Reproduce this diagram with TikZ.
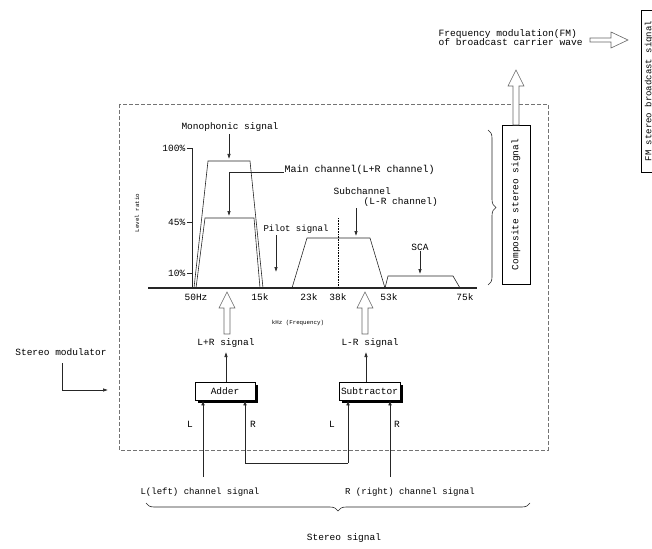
\documentclass[tikz,border=0pt]{standalone}
\usepackage{fontspec}
\setmainfont{Liberation Mono}
\usetikzlibrary{arrows.meta,shadows,decorations.pathreplacing}
\begin{document}
\begin{tikzpicture}[x=1pt,y=-1pt,
  font=\fontsize{9.5}{9}\selectfont,
  lbl/.style={inner sep=0.5pt},
  tiny/.style={inner sep=0.5pt,font=\fontsize{5.8}{6}\selectfont},
  ln/.style={line width=0.6pt, draw=black!85},
  arr/.style={ln,-{Latex[length=5pt,width=3.5pt]}},
  harrow/.style={draw=black!60, fill=white, line width=0.6pt},
  dashbox/.style={draw=black!55, dash pattern=on 4pt off 2pt, line width=0.7pt},
  opbox/.style={draw, fill=white, line width=0.6pt, minimum width=60pt, minimum height=18pt, inner sep=1pt,
    drop shadow={shadow xshift=2.5pt, shadow yshift=-2.5pt, fill=black, opacity=1}},
  brc/.style={ln, decorate, decoration={brace, amplitude=8pt}}]
\useasboundingbox (0,0) rectangle (652,548);

% outer dashed box
\draw[dashbox] (119,104) rectangle (548,450);

% top right: FM text and output box
\node[lbl, anchor=west, align=left, font=\fontsize{9.6}{9}\selectfont] (fmtxt) at (438,37.5)
  {Frequency modulation(FM)\\of broadcast carrier wave};
\draw[harrow] (590,38) -- (611,38) -- (611,32) -- (628,40) -- (611,48) -- (611,42) -- (590,42) -- cycle;
\node[draw, line width=0.6pt, minimum width=24pt, minimum height=162pt, inner sep=0pt] (fmbox) at (653,91) {};
\node[lbl, rotate=90, font=\fontsize{9}{9}\selectfont] (fmboxtxt) at (649,91) {FM stereo broadcast signal};

% composite stereo signal box
\node[draw, line width=0.6pt, minimum width=28pt, minimum height=159pt, inner sep=0pt] (comp) at (516,204.5) {};
\node[lbl, rotate=90] (comptxt) at (516,204.5) {Composite stereo signal};
\draw[harrow] (513,125) -- (513,86) -- (508,86) -- (516,70) -- (524,86) -- (519,86) -- (519,125) -- cycle;
\coordinate (bt) at (488,130);
\coordinate (bb) at (488,285);
\draw[brc] (bt) -- (bb);

% axes
\coordinate (ax0) at (148,288);
\coordinate (ax1) at (477,288);
\draw[line width=1.6pt, black!85] (ax0) -- (ax1);
\coordinate (yb) at (192,288);
\coordinate (yt) at (192,148);
\draw[ln] (yb) -- (yt);
\draw[ln] (187,148) -- (192,148);
\draw[ln] (187,222) -- (192,222);
\draw[ln] (187,273) -- (192,273);
\node[lbl, anchor=east] (t100) at (186,148) {100\%};
\node[lbl, anchor=east] (t45) at (186,222) {45\%};
\node[lbl, anchor=east] (t10) at (186,273) {10\%};
\node[tiny, rotate=90] (lvl) at (137,213) {Level ratio};

\node[lbl] (f1) at (196,297) {50Hz};
\node[lbl] (f2) at (260,297) {15k};
\node[lbl] (f3) at (309,297) {23k};
\node[lbl] (f4) at (338,297) {38k};
\node[lbl] (f5) at (389,297) {53k};
\node[lbl] (f6) at (465,297) {75k};
\node[tiny] (fq) at (298,323) {kHz (Frequency)};

% spectra
\draw[ln] (194,288) -- (208,161) -- (250,161) -- (263,288);
\draw[ln] (196,288) -- (205,218) -- (254,218) -- (260,288);
\draw[ln] (292,288) -- (307,238) -- (370,238) -- (385,288);
\draw[ln] (385,288) -- (388,276) -- (453,276) -- (460,288);
\draw[line width=0.6pt, densely dotted] (338,218) -- (338,288);

% spectrum labels
\node[lbl] (mono) at (230,127) {Monophonic signal};
\coordinate (monot) at (229,159);
\draw[arr] (229,134) -- (monot);
\node[lbl, anchor=west, font=\fontsize{10}{9}\selectfont] (mainl) at (284,170) {Main channel(L+R channel)};
\coordinate (maint) at (229,216);
\draw[arr] (mainl.west) ++(0,2) -| (maint);
\node[lbl, anchor=west] (subl) at (333,191.5) {Subchannel};
\node[lbl, anchor=west] (subl2) at (363,202) {(L-R channel)};
\coordinate (subt) at (356,236);
\draw[arr] (356,208) -- (subt);
\node[lbl, font=\fontsize{9}{9}\selectfont] (pilot) at (296,229) {Pilot signal};
\coordinate (pilt) at (276,272);
\draw[arr] (276,235) -- (pilt);
\node[lbl] (sca) at (420,247) {SCA};
\coordinate (scat) at (420,274);
\draw[arr] (sca.south) -- (scat);

% signals to spectrum
\node[lbl] (lps) at (226,343) {L+R signal};
\node[lbl] (lms) at (370,343) {L-R signal};
\draw[harrow] (224,334) -- (224,308) -- (219,308) -- (227,292) -- (235,308) -- (230,308) -- (230,334) -- cycle;
\draw[harrow] (362,334) -- (362,308) -- (357,308) -- (365,292) -- (373,308) -- (368,308) -- (368,334) -- cycle;

% adder and subtractor
\node[opbox] (adder) at (225,391) {Adder};
\node[opbox, minimum width=61pt] (sub) at (369.5,391) {Subtractor};
\draw[arr] (adder.north -| 226,0) -- (226,352);
\draw[arr] (sub.north -| 366,0) -- (366,352);

% inputs
\coordinate (lin) at (203,477);
\coordinate (rin) at (390,477);
\coordinate (u1) at (245,463);
\coordinate (u2) at (348,463);
\draw[arr] (lin) -- (lin |- adder.south);
\draw[arr] (rin) -- (rin |- sub.south);
\draw[ln] (u1) -- (u2);
\draw[arr] (u1) -- (u1 |- adder.south);
\draw[arr] (u2) -- (u2 |- sub.south);
\node[lbl] (la) at (190,424) {L};
\node[lbl] (ra) at (253,424) {R};
\node[lbl] (ls) at (332,424) {L};
\node[lbl] (rs) at (397,424) {R};

\node[lbl, font=\fontsize{9}{9}\selectfont] (lch) at (200,492) {L(left) channel signal};
\node[lbl, font=\fontsize{9}{9}\selectfont] (rch) at (410,492) {R (right) channel signal};
\coordinate (br1) at (530,503);
\coordinate (br0) at (146,503);
\draw[brc] (br1) -- (br0);
\node[lbl] (stsig) at (344,538) {Stereo signal};

% stereo modulator
\node[lbl] (stmod) at (61,352) {Stereo modulator};
\coordinate (smc) at (62,390);
\coordinate (sme) at (108,390);
\draw[arr] (62,363) -- (smc) -- (sme);
\end{tikzpicture}
\end{document}
